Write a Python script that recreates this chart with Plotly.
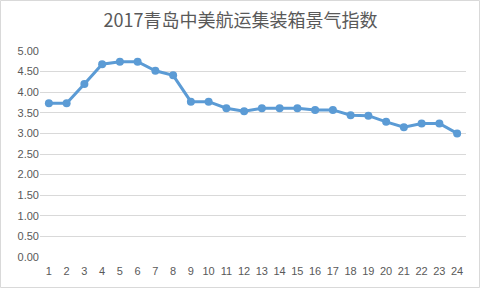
import plotly.graph_objects as go

categories = [str(i) for i in range(1, 25)]
values = [3.73, 3.73, 4.20, 4.68, 4.74, 4.74, 4.52, 4.41, 3.77, 3.77, 3.61, 3.54,
          3.61, 3.61, 3.61, 3.57, 3.57, 3.44, 3.43, 3.28, 3.15, 3.24, 3.24, 3.00]
y_ticks = [0, 0.5, 1.0, 1.5, 2.0, 2.5, 3.0, 3.5, 4.0, 4.5, 5.0]
title = "2017青岛中美航运集装箱景气指数"

L, R, T, B = 40, 15, 51, 32
W, H = 481, 289
pw, ph = W - L - R, H - T - B

fig = go.Figure(go.Scatter(
    x=categories, y=values, mode="lines+markers",
    line=dict(color="#5B9BD5", width=3),
    marker=dict(color="#5B9BD5", size=8),
    showlegend=False, hoverinfo="skip",
))

fig.update_layout(
    width=W, height=H,
    margin=dict(l=L, r=R, t=T, b=B),
    paper_bgcolor="white", plot_bgcolor="white",
    title=dict(text=title, x=0.5, xanchor="center", y=1 - 21 / H, yanchor="middle",
               font=dict(family="Noto Sans CJK SC", size=18, color="#595959")),
    xaxis=dict(type="category", range=[-0.5, 23.5], showgrid=False, zeroline=False,
               showline=False, ticks="", ticklabelstandoff=6,
               tickfont=dict(family="Liberation Sans", size=11, color="#595959")),
    yaxis=dict(range=[0, 5.0], tickvals=y_ticks, tickformat=".2f", showgrid=True,
               gridcolor="#D9D9D9", gridwidth=1, zeroline=False, showline=False, ticks="",
               tickfont=dict(family="Liberation Sans", size=11, color="#595959")),
    shapes=[dict(type="rect", xref="paper", yref="paper",
                 x0=(0.5 - L) / pw, x1=(W - 1.5 - L) / pw,
                 y0=-(B - 1.5) / ph, y1=1 + (T - 0.5) / ph,
                 line=dict(color="#D9D9D9", width=1), fillcolor="rgba(0,0,0,0)", layer="below")],
)

fig.write_html("out.html")
